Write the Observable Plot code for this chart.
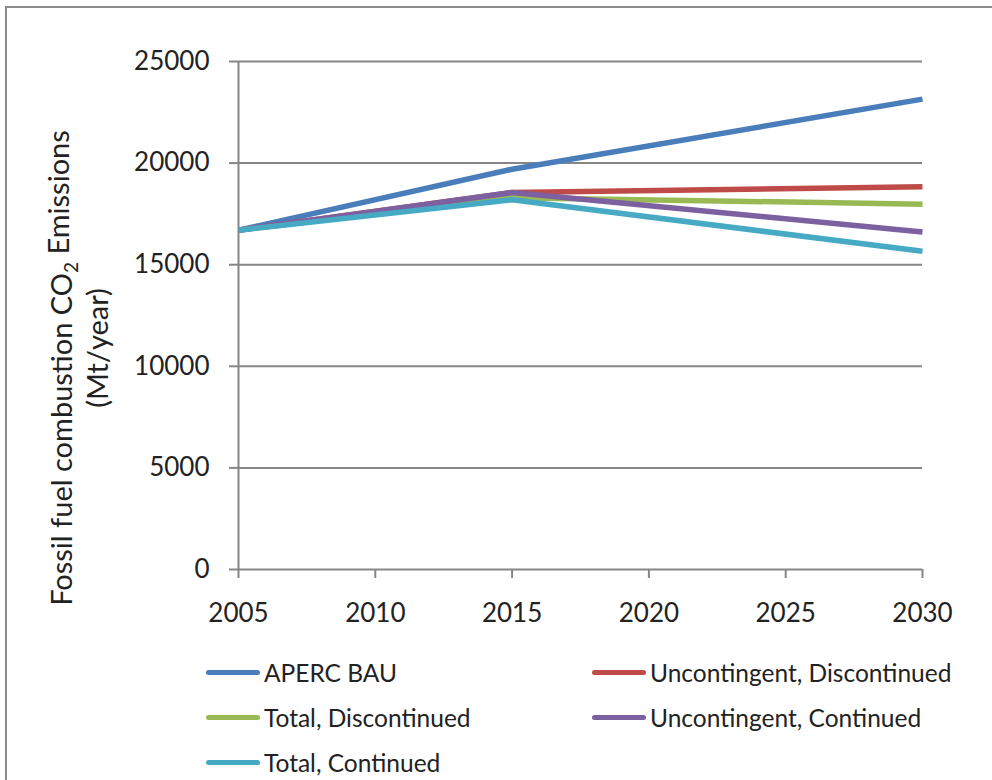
<!DOCTYPE html>
<html>
<head>
<meta charset="utf-8">
<script src="https://cdn.jsdelivr.net/npm/d3@7"></script>
<script src="https://cdn.jsdelivr.net/npm/@observablehq/plot@0.6"></script>
<style>
  html, body { margin: 0; padding: 0; background: #fff; overflow: hidden; }
  #wrap { position: relative; width: 992px; height: 780px; }
  #frame { position: absolute; left: 5px; top: 6px; width: 1000px; height: 800px;
           border-left: 2px solid #8c8c8c; border-top: 2px solid #8c8c8c; box-sizing: border-box; }
  #chart { position: absolute; left: 0; top: 0; }
  #chart svg text { fill: #222; }
  #chart .tick line, #chart g[aria-label$="axis tick"] { stroke-width: 2px; }
  .leg { position: absolute; font-family: Lato, "Open Sans", sans-serif; font-size: 24.5px; color: #222;
         display: flex; align-items: center; height: 30px; }
  .sw { width: 54px; height: 5px; border-radius: 3px; margin-right: 4px; }
</style>
</head>
<body>
<div id="wrap">
  <div id="frame"></div>
  <div id="chart"></div>
  <div id="legend"></div>
</div>
<script>
const years = [2005, 2015, 2030];
const seriesNames = ["APERC BAU", "Uncontingent, Discontinued", "Total, Discontinued", "Uncontingent, Continued", "Total, Continued"];
const seriesColors = ["#4a7ebb", "#be4b48", "#98b954", "#7d60a0", "#46aac5"];
const apercBAU = [16700, 19700, 23150];
const uncontingentDiscontinued = [16700, 18550, 18830];
const totalDiscontinued = [16700, 18300, 17980];
const uncontingentContinued = [16700, 18550, 16610];
const totalContinued = [16700, 18200, 15660];
const xTicks = [2005, 2010, 2015, 2020, 2025, 2030];
const yTicks = [0, 5000, 10000, 15000, 20000, 25000];

const allValues = [apercBAU, uncontingentDiscontinued, totalDiscontinued, uncontingentContinued, totalContinued];
const data = [];
allValues.forEach((vals, i) => {
  vals.forEach((v, j) => data.push({series: seriesNames[i], year: years[j], value: v}));
});

const plot = Plot.plot({
  width: 992,
  height: 650,
  marginLeft: 238,
  marginRight: 70,
  marginTop: 61,
  marginBottom: 81,
  style: {fontFamily: "Lato, 'Open Sans', sans-serif", fontSize: "26px", color: "#868686", background: "transparent"},
  x: {domain: [2005, 2030], ticks: xTicks, tickFormat: d => String(d), tickSize: 9, tickPadding: 25, label: null},
  y: {domain: [0, 25000], ticks: yTicks, tickFormat: d => String(d), tickSize: 9, tickPadding: 20, label: null},
  color: {domain: seriesNames, range: seriesColors},
  marks: [
    Plot.ruleY(yTicks, {stroke: "#868686", strokeWidth: 2}),
    Plot.ruleX([2005], {stroke: "#868686", strokeWidth: 2}),
    Plot.line(data, {x: "year", y: "value", z: "series", stroke: "series", strokeWidth: 5.5, strokeLinejoin: "round", strokeLinecap: "butt"})
  ]
});
document.getElementById("chart").appendChild(plot);

// Y axis title (two lines, rotated)
const svg = d3.select(plot);
const t1 = svg.append("text")
  .attr("transform", "translate(72,368) rotate(-90)")
  .attr("text-anchor", "middle")
  .style("font-family", "Lato, 'Open Sans', sans-serif")
  .style("font-size", "29px");
t1.append("tspan").text("Fossil fuel combustion CO");
t1.append("tspan").attr("dy", "0.3em").style("font-size", "19px").text("2");
t1.append("tspan").attr("dy", "-0.3em").text(" Emissions");
svg.append("text")
  .attr("transform", "translate(108,348) rotate(-90)")
  .attr("text-anchor", "middle")
  .style("font-family", "Lato, 'Open Sans', sans-serif")
  .style("font-size", "29px")
  .text("(Mt/year)");

// Legend
const legendPos = [[206, 657], [592, 657], [206, 702], [592, 702], [206, 747]];
const legend = document.getElementById("legend");
seriesNames.forEach((name, i) => {
  const d = document.createElement("div");
  d.className = "leg";
  d.style.left = legendPos[i][0] + "px";
  d.style.top = legendPos[i][1] + "px";
  const sw = document.createElement("div");
  sw.className = "sw";
  sw.style.background = seriesColors[i];
  const tx = document.createElement("span");
  tx.textContent = name;
  d.appendChild(sw);
  d.appendChild(tx);
  legend.appendChild(d);
});
</script>
</body>
</html>
